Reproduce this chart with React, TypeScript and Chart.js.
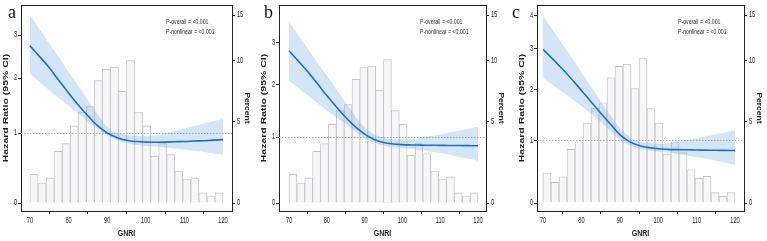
import React, { useEffect, useRef } from 'react';
import { Chart, registerables, LinearScale } from 'chart.js';

// ---------------- data ----------------
const splineX = [70, 72.5, 75, 77.5, 80, 82.5, 85, 87.5, 90, 92.5, 95, 97.5, 100, 102.5, 105, 107.5, 110, 112.5, 115, 117.5, 120];

const hrA = [2.73, 2.47, 2.22, 1.95, 1.705, 1.48, 1.29, 1.12, 1.0, 0.93, 0.884, 0.864, 0.856, 0.854, 0.856, 0.861, 0.865, 0.872, 0.878, 0.886, 0.894];
const loA = [2.09, 1.92, 1.76, 1.61, 1.46, 1.33, 1.20, 1.07, 0.96, 0.89, 0.842, 0.811, 0.795, 0.783, 0.772, 0.757, 0.742, 0.722, 0.704, 0.682, 0.659];
const hiA = [3.57, 3.16, 2.79, 2.45, 2.135, 1.845, 1.57, 1.32, 1.10, 1.01, 0.968, 0.952, 0.947, 0.96, 0.993, 1.033, 1.074, 1.115, 1.157, 1.196, 1.233];

const hrB = [2.79, 2.53, 2.28, 2.02, 1.77, 1.55, 1.35, 1.18, 1.05, 0.96, 0.91, 0.885, 0.873, 0.868, 0.865, 0.863, 0.861, 0.86, 0.858, 0.856, 0.855];
const loB = [2.08, 1.92, 1.77, 1.62, 1.48, 1.35, 1.23, 1.10, 0.99, 0.91, 0.86, 0.83, 0.815, 0.80, 0.78, 0.76, 0.735, 0.705, 0.675, 0.645, 0.61];
const hiB = [3.6, 3.2, 2.84, 2.50, 2.19, 1.90, 1.63, 1.38, 1.17, 1.05, 0.99, 0.965, 0.955, 0.965, 0.985, 1.015, 1.045, 1.08, 1.11, 1.145, 1.18];

const hrC = [2.98, 2.73, 2.48, 2.23, 1.98, 1.74, 1.51, 1.30, 1.10, 0.975, 0.905, 0.87, 0.85, 0.84, 0.835, 0.832, 0.829, 0.826, 0.824, 0.822, 0.82];
const loC = [2.26, 2.10, 1.95, 1.80, 1.65, 1.50, 1.34, 1.17, 1.01, 0.91, 0.855, 0.822, 0.80, 0.78, 0.76, 0.735, 0.71, 0.68, 0.65, 0.615, 0.58];
const hiC = [4.0, 3.55, 3.14, 2.76, 2.40, 2.07, 1.75, 1.48, 1.22, 1.06, 0.975, 0.948, 0.935, 0.945, 0.97, 1.0, 1.035, 1.07, 1.105, 1.14, 1.18];

const binCenters = [71.04, 73.13, 75.21, 77.29, 79.38, 81.46, 83.54, 85.63, 87.71, 89.79, 91.88, 93.96, 96.04, 98.13, 100.21, 102.29, 104.38, 106.46, 108.54, 110.63, 112.71, 114.79, 116.88, 118.96];
const pctA = [1.6, 1.1, 1.4, 3.0, 3.5, 4.7, 5.7, 6.1, 8.2, 9.2, 9.4, 7.3, 10.0, 5.7, 4.7, 2.7, 3.5, 2.8, 1.8, 1.3, 1.4, 0.55, 0.35, 0.55];
const pctB = [1.6, 1.1, 1.4, 3.0, 3.5, 4.8, 5.8, 6.25, 8.3, 9.35, 9.5, 7.4, 10.1, 5.8, 4.8, 2.75, 3.5, 2.85, 1.8, 1.3, 1.45, 0.55, 0.35, 0.55];
const pctC = [1.68, 1.14, 1.46, 3.13, 3.62, 4.9, 6.0, 6.4, 8.45, 9.47, 9.68, 7.52, 10.2, 5.95, 4.9, 2.83, 3.62, 2.92, 1.87, 1.37, 1.48, 0.56, 0.36, 0.56];

const xTicks = [70, 80, 90, 100, 110, 120];
const hrTicksAB = [0, 1, 2, 3];
const hrTicksC = [0, 1, 2, 3, 4];
const pctTicks = [0, 5, 10, 15];
const refHR = 1;

const yTitle = 'Hazard Ratio (95% CI)';
const y1Title = 'Percent';
const xTitle = 'GNRI';
const pOverall = 'P-overall = <0.001';
const pNonlinear = 'P-nonlinear = <0.001';

// ---------------- layout / style ----------------
const W = 767, H = 241;
const BOX_TOP = 5, BOX_BOTTOM = 211;
const PCT_MIN = -0.42, PCT_MAX = 16.32;
const BLUE = '#1b72c0';
const BAND = 'rgba(110,170,225,0.30)';
const AXIS = '#222';
const SANS = '"Liberation Sans", Arial, sans-serif';
const SQ = 0.66; // horizontal squeeze of the reference's text

// vertical warp of the reference image
const K = 0.968;
const warp = (u: number) => (1 - Math.exp(-K * u)) / (1 - Math.exp(-K));
const unwarp = (w: number) => -Math.log(1 - w * (1 - Math.exp(-K))) / K;

class WarpScale extends LinearScale {
  static id = 'warp';
  getPixelForValue(value: any) {
    if (value === null || value === undefined || Number.isNaN(value)) return NaN;
    const s: any = this;
    const u = (value - s._startValue) / s._valueRange;
    return this.getPixelForDecimal(warp(u));
  }
  getValueForPixel(pixel: number) {
    const s: any = this;
    const w = this.getDecimalForPixel(pixel);
    return s._startValue + unwarp(w) * s._valueRange;
  }
}

Chart.register(...registerables, WarpScale as any);

type Panel = {
  letter: string; letterX: number;
  boxLeft: number; boxRight: number;
  xMin: number; xMax: number;
  yMin: number; yMax: number; yTicks: number[];
  hr: number[]; lo: number[]; hi: number[]; pct: number[];
};

const panels: Panel[] = [
  { letter: 'a', letterX: 8, boxLeft: 21, boxRight: 232, xMin: 67.67, xMax: 122.33, yMin: -0.1, yMax: 3.88, yTicks: hrTicksAB, hr: hrA, lo: loA, hi: hiA, pct: pctA },
  { letter: 'b', letterX: 264, boxLeft: 279, boxRight: 486, xMin: 67.35, xMax: 122.12, yMin: -0.107, yMax: 4.15, yTicks: hrTicksAB, hr: hrB, lo: loB, hi: hiB, pct: pctB },
  { letter: 'c', letterX: 512, boxLeft: 537, boxRight: 744, xMin: 68.44, xMax: 122.34, yMin: -0.113, yMax: 4.38, yTicks: hrTicksC, hr: hrC, lo: loC, hi: hiC, pct: pctC },
];

function drawText(ctx: CanvasRenderingContext2D, s: string, x: number, y: number, font: string,
  align: CanvasTextAlign, baseline: CanvasTextBaseline, sx: number, rot = 0, color = AXIS) {
  ctx.save();
  ctx.translate(x, y);
  ctx.scale(sx, 1);
  if (rot) ctx.rotate(rot);
  ctx.font = font;
  ctx.textAlign = align;
  ctx.textBaseline = baseline;
  ctx.fillStyle = color;
  ctx.fillText(s, 0, 0);
  ctx.restore();
}

function makeChart(canvas: HTMLCanvasElement, p: Panel) {
  const pts = (ys: number[]) => splineX.map((x, i) => ({ x, y: ys[i] }));
  const axisCommon = {
    grid: { display: true, drawOnChartArea: false, drawTicks: true, tickLength: 3, color: AXIS, lineWidth: 1 },
    border: { display: true, color: AXIS, width: 1 },
    ticks: { display: false },
  };
  const plugin = {
    id: 'deco_' + p.letter,
    afterDatasetDraw(chart: any, args: any) {
      if (args.index !== 3) return;
      const ctx = chart.ctx, ca = chart.chartArea;
      const yy = Math.round(chart.scales.y.getPixelForValue(refHR)) + 0.5;
      ctx.save();
      ctx.strokeStyle = '#aaaaaa';
      ctx.lineWidth = 1;
      ctx.setLineDash([1.5, 1.5]);
      ctx.beginPath();
      ctx.moveTo(ca.left, yy);
      ctx.lineTo(ca.right, yy);
      ctx.stroke();
      ctx.restore();
    },
    afterDraw(chart: any) {
      const ctx: CanvasRenderingContext2D = chart.ctx;
      const ca = chart.chartArea;
      const { x, y, y1 } = chart.scales;
      ctx.save();
      ctx.strokeStyle = AXIS; ctx.lineWidth = 1;
      ctx.beginPath();
      ctx.moveTo(ca.left, Math.round(ca.top) + 0.5);
      ctx.lineTo(ca.right, Math.round(ca.top) + 0.5);
      ctx.stroke();
      ctx.restore();
      const tickFont = `8.5px ${SANS}`;
      y.ticks.forEach((t: any) => drawText(ctx, String(t.value), ca.left - 4, y.getPixelForValue(t.value), tickFont, 'right', 'middle', SQ));
      y1.ticks.forEach((t: any) => drawText(ctx, String(t.value), ca.right + 5, y1.getPixelForValue(t.value), tickFont, 'left', 'middle', SQ));
      x.ticks.forEach((t: any) => drawText(ctx, String(t.value), x.getPixelForValue(t.value), ca.bottom + 10, tickFont, 'center', 'middle', SQ));
      const midY = (ca.top + ca.bottom) / 2;
      drawText(ctx, yTitle, ca.left - 15, midY, `bold 10.5px ${SANS}`, 'center', 'middle', 0.75, -Math.PI / 2);
      drawText(ctx, y1Title, ca.right + 15, midY, `bold 8.5px ${SANS}`, 'center', 'middle', 0.75, Math.PI / 2);
      drawText(ctx, xTitle, (ca.left + ca.right) / 2, 234, `bold 9px ${SANS}`, 'center', 'middle', 0.78);
      drawText(ctx, pOverall, ca.right - 66, 22, `8px ${SANS}`, 'left', 'middle', 0.65, 0, '#333');
      drawText(ctx, pNonlinear, ca.right - 66, 32, `8px ${SANS}`, 'left', 'middle', 0.65, 0, '#333');
      drawText(ctx, p.letter, p.letterX, 18, `18px "Liberation Serif", "Times New Roman", serif`, 'left', 'alphabetic', 1, 0, '#111');
    },
  };

  return new Chart(canvas, {
    type: 'line',
    data: {
      datasets: [
        { type: 'line', label: 'HR', data: pts(p.hr), yAxisID: 'y', borderColor: BLUE, borderWidth: 1.6, pointRadius: 0, fill: false, tension: 0.4, order: 0 } as any,
        { type: 'line', label: 'upper', data: pts(p.hi), yAxisID: 'y', borderColor: 'transparent', borderWidth: 0, pointRadius: 0, fill: '+1', backgroundColor: BAND, tension: 0.4, order: 1 } as any,
        { type: 'line', label: 'lower', data: pts(p.lo), yAxisID: 'y', borderColor: 'transparent', borderWidth: 0, pointRadius: 0, fill: false, tension: 0.4, order: 1 } as any,
        { type: 'bar', label: 'Percent', data: binCenters.map((x, i) => ({ x, y: p.pct[i] })), yAxisID: 'y1', backgroundColor: '#f7f6f8', borderColor: '#c4c4c4', borderWidth: 0.9, barPercentage: 1, categoryPercentage: 1, order: 2 } as any,
      ],
    },
    options: {
      responsive: false,
      maintainAspectRatio: false,
      animation: false,
      devicePixelRatio: 1,
      events: [],
      layout: { autoPadding: false, padding: { left: p.boxLeft - 20, right: W - p.boxRight - 20, top: BOX_TOP, bottom: H - BOX_BOTTOM - 30 } },
      plugins: { legend: { display: false }, tooltip: { enabled: false } },
      scales: {
        x: {
          type: 'linear', min: p.xMin, max: p.xMax, offset: false,
          ...axisCommon,
          afterBuildTicks: (s: any) => { s.ticks = xTicks.map((v) => ({ value: v })); },
          afterFit: (s: any) => { s.height = 30; },
        },
        y: {
          type: 'warp' as any, position: 'left', min: p.yMin, max: p.yMax,
          ...axisCommon,
          afterBuildTicks: (s: any) => { s.ticks = p.yTicks.map((v) => ({ value: v })); },
          afterFit: (s: any) => { s.width = 20; },
        },
        y1: {
          type: 'warp' as any, position: 'right', min: PCT_MIN, max: PCT_MAX,
          ...axisCommon,
          afterBuildTicks: (s: any) => { s.ticks = pctTicks.map((v) => ({ value: v })); },
          afterFit: (s: any) => { s.width = 20; },
        },
      } as any,
    },
    plugins: [plugin],
  } as any);
}

export default function App() {
  const r0 = useRef<HTMLCanvasElement>(null);
  const r1 = useRef<HTMLCanvasElement>(null);
  const r2 = useRef<HTMLCanvasElement>(null);
  const refs = [r0, r1, r2];
  useEffect(() => {
    const charts = panels.map((p, i) => makeChart(refs[i].current as HTMLCanvasElement, p));
    return () => charts.forEach((c) => c.destroy());
  }, []);
  return (
    <div style={{ position: 'absolute', left: 0, top: 0, width: W, height: H, background: '#fff' }}>
      {panels.map((p, i) => (
        <canvas key={p.letter} ref={refs[i]} width={W} height={H}
          style={{ position: 'absolute', left: 0, top: 0, width: W, height: H }} />
      ))}
    </div>
  );
}
